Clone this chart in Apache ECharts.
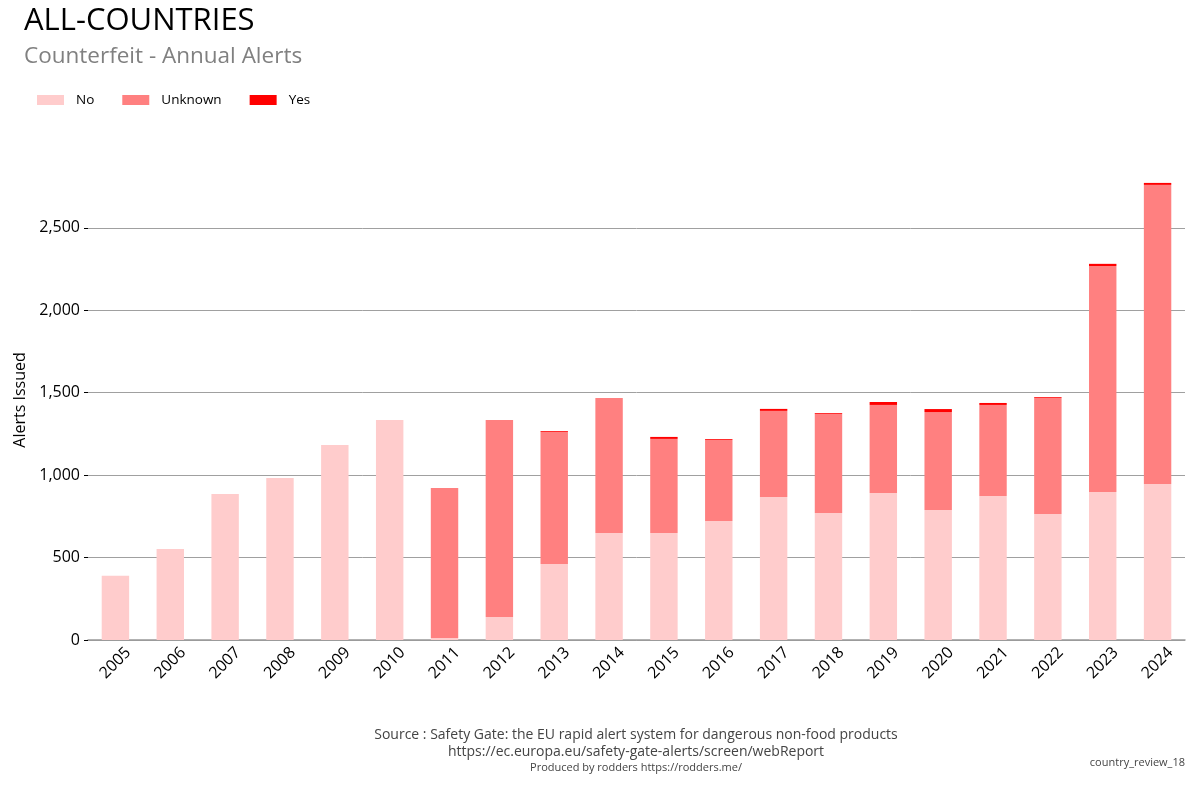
<!DOCTYPE html>
<html>
<head>
<meta charset="utf-8">
<script src="https://cdn.jsdelivr.net/npm/echarts@6/dist/echarts.min.js"></script>
<style>html,body{margin:0;padding:0;background:#fff}#c{width:1200px;height:800px}</style>
</head>
<body>
<div id="c"></div>
<script>
const years = ['2005','2006','2007','2008','2009','2010','2011','2012','2013','2014','2015','2016','2017','2018','2019','2020','2021','2022','2023','2024'];
const noVals      = [390, 552, 886, 983, 1183, 1335, 12, 140, 461, 649, 649, 722, 868, 771, 892, 789, 874, 765, 898, 947];
const unknownVals = [0, 0, 0, 0, 0, 0, 910, 1195, 801, 819, 571, 492, 522, 600, 534, 594, 552, 703, 1371, 1814];
const yesVals     = [0, 0, 0, 0, 0, 0, 0, 0, 5, 0, 12, 5, 12, 5, 18, 18, 12, 5, 13, 12];
const yTicks = [0, 500, 1000, 1500, 2000, 2500];

const FONT = '"Open Sans", "Noto Sans", sans-serif';
const chart = echarts.init(document.getElementById('c'), null, {renderer: 'canvas'});
const gridColor = '#a0a0a0';
chart.setOption({
  animation: false,
  textStyle: {fontFamily: FONT},
  title: {
    text: 'ALL-COUNTRIES',
    subtext: 'Counterfeit - Annual Alerts',
    left: 19, top: 1,
    itemGap: 8,
    textStyle: {fontFamily: FONT, fontSize: 31, fontWeight: 'normal', color: '#000'},
    subtextStyle: {fontFamily: FONT, fontSize: 22.5, color: '#808080'}
  },
  legend: {
    left: 32, top: 88,
    icon: 'rect',
    itemWidth: 27, itemHeight: 10,
    itemGap: 28,
    textStyle: {fontFamily: FONT, fontSize: 13.5, color: '#000', padding: [0, 0, 0, 7]},
    data: ['No', 'Unknown', 'Yes']
  },
  grid: {left: 88, right: 15, top: 160, bottom: 160, containLabel: false},
  xAxis: {
    type: 'category',
    data: years,
    axisLine: {lineStyle: {color: '#999', width: 1.5}},
    axisTick: {alignWithLabel: true, length: 5, lineStyle: {color: '#000'}},
    axisLabel: {rotate: 45, fontSize: 16, color: '#000', fontFamily: FONT, margin: 23, interval: 0,
      align: 'center', verticalAlign: 'middle'}
  },
  yAxis: {
    type: 'value',
    min: 0, max: 2912, interval: 500,
    name: 'Alerts Issued',
    nameLocation: 'middle',
    nameGap: 60,
    nameTextStyle: {fontSize: 16, color: '#000', fontFamily: FONT},
    axisLine: {show: false},
    axisTick: {show: true, length: 4, lineStyle: {color: '#000'}, customValues: yTicks},
    axisLabel: {fontSize: 16, color: '#000', fontFamily: FONT, margin: 8, customValues: yTicks,
      formatter: v => Number(v).toLocaleString('en-US')},
    splitLine: {show: true, customValues: yTicks,
      lineStyle: {color: [gridColor, gridColor, gridColor, gridColor, gridColor, gridColor, 'rgba(0,0,0,0)'], width: 1}}
  },
  series: [
    {name: 'No', type: 'bar', stack: 't', data: noVals, barWidth: '50%', itemStyle: {color: '#FFCCCC'}},
    {name: 'Unknown', type: 'bar', stack: 't', data: unknownVals, barWidth: '50%', itemStyle: {color: '#FF8080'}},
    {name: 'Yes', type: 'bar', stack: 't', data: yesVals, barWidth: '50%', itemStyle: {color: '#FF0000'}}
  ],
  graphic: [
    {type: 'text', x: 636, y: 735, style: {text: 'Source : Safety Gate: the EU rapid alert system for dangerous non-food products', font: '14px ' + FONT, fill: '#444', align: 'center', verticalAlign: 'middle'}},
    {type: 'text', x: 636, y: 752, style: {text: 'https://ec.europa.eu/safety-gate-alerts/screen/webReport', font: '14px ' + FONT, fill: '#444', align: 'center', verticalAlign: 'middle'}},
    {type: 'text', x: 636, y: 768, style: {text: 'Produced by rodders https://rodders.me/', font: '11px ' + FONT, fill: '#444', align: 'center', verticalAlign: 'middle'}},
    {type: 'text', x: 1185, y: 763, style: {text: 'country_review_18', font: '11px ' + FONT, fill: '#444', align: 'right', verticalAlign: 'middle'}}
  ]
});
</script>
</body>
</html>
